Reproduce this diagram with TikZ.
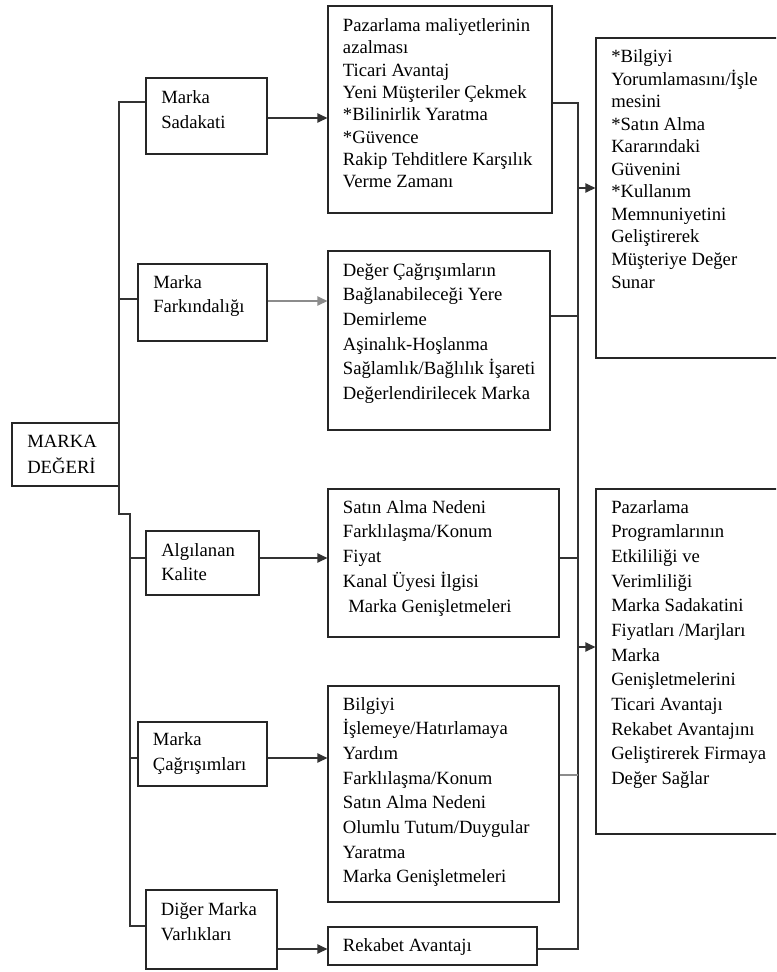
\documentclass[tikz,border=0pt]{standalone}
\usepackage{fontspec}
\setmainfont{Liberation Serif}
\usetikzlibrary{fit,arrows.meta}
\newcommand{\mlines}[1]{\begin{tabular}[t]{@{}l@{}}#1\end{tabular}}
\begin{document}
\begin{tikzpicture}[x=0.75pt,y=-0.75pt,
  box/.style={draw=black!85,line width=0.9pt,inner sep=0pt},
  txt/.style={anchor=base west,inner sep=0pt,text=black},
  conn/.style={draw=black!80,line width=0.9pt},
  lconn/.style={draw=black!45,line width=0.9pt},
  arr/.style={conn,-{Triangle[length=7.5pt,width=7pt]}},
  larr/.style={lconn,-{Triangle[length=7.5pt,width=7pt]}},
  sk/.style={font=\fontsize{14pt}{#1}\selectfont}]
\useasboundingbox (0,0) rectangle (776,972);
\clip (0,0) rectangle (776,972);
\fill[white] (0,0) rectangle (776,972);

% boxes
\node[box,fit={(12,423)(119,486)}] (md) {};
\node[box,fit={(146,78)(267,154)}] (sad) {};
\node[box,fit={(138,264)(267,341)}] (far) {};
\node[box,fit={(146,531)(259,595)}] (alg) {};
\node[box,fit={(138,722)(267,786)}] (cag) {};
\node[box,fit={(146,890)(277,969)}] (dig) {};
\node[box,fit={(328,6)(552,213)}] (b1) {};
\node[box,fit={(328,251)(550,430)}] (b2) {};
\node[box,fit={(328,489)(559,637)}] (b3) {};
\node[box,fit={(328,686)(559,902)}] (b4) {};
\node[box,fit={(328,927)(537,965)}] (rek) {};
\node[box,fit={(596,38)(790,358)}] (r1) {};
\node[box,fit={(596,489)(790,834)}] (r2) {};

% texts
\node[txt,sk=19.5pt] (mdt) at (27,447) {\mlines{MARKA\\DEĞERİ}};
\node[txt,sk=18.5pt] (sadt) at (161,103.5) {\mlines{Marka\\Sadakati}};
\node[txt,sk=18pt] (fart) at (153,288.3) {\mlines{Marka\\Farkındalığı}};
\node[txt,sk=18.2pt] (algt) at (161,556.7) {\mlines{Algılanan\\Kalite}};
\node[txt,sk=18.75pt] (cagt) at (152.7,745.7) {\mlines{Marka\\Çağrışımları}};
\node[txt,sk=18.75pt] (digt) at (160.7,915) {\mlines{Diğer Marka\\Varlıkları}};
\node[txt,sk=18pt] (rekt) at (342.7,951.7) {Rekabet Avantajı};
\node[txt,sk=16.7pt] (b1t) at (342.7,31.7) {\mlines{Pazarlama maliyetlerinin\\azalması\\Ticari Avantaj\\Yeni Müşteriler Çekmek\\{}*Bilinirlik Yaratma\\{}*Güvence\\Rakip Tehditlere Karşılık\\Verme Zamanı}};
\node[txt,sk=18.5pt] (b2t) at (342.7,276) {\mlines{Değer Çağrışımların\\Bağlanabileceği Yere\\Demirleme\\Aşinalık-Hoşlanma\\Sağlamlık/Bağlılık İşareti\\Değerlendirilecek Marka}};
\node[txt,sk=18.6pt] (b3t) at (342.7,513) {\mlines{Satın Alma Nedeni\\Farklılaşma/Konum\\Fiyat\\Kanal Üyesi İlgisi\\\hspace*{4pt}Marka Genişletmeleri}};
\node[txt,sk=18.5pt] (b4t) at (342.7,710) {\mlines{Bilgiyi\\İşlemeye/Hatırlamaya\\Yardım\\Farklılaşma/Konum\\Satın Alma Nedeni\\Olumlu Tutum/Duygular\\Yaratma\\Marka Genişletmeleri}};
\node[txt,sk=16.9pt] (r1t) at (611,62.7) {\mlines{*Bilgiyi\\Yorumlamasını/İşle\\mesini\\{}*Satın Alma\\Kararındaki\\Güvenini\\{}*Kullanım\\Memnuniyetini\\Geliştirerek\\Müşteriye Değer\\Sunar}};
\node[txt,sk=18.5pt] (r2t) at (611,513) {\mlines{Pazarlama\\Programlarının\\Etkililiği ve\\Verimliliği\\Marka Sadakatini\\Fiyatları /Marjları\\Marka\\Genişletmelerini\\Ticari Avantajı\\Rekabet Avantajını\\Geliştirerek Firmaya\\Değer Sağlar}};

% left trunk
\coordinate (j1) at (119,102);
\coordinate (j2) at (119,299);
\coordinate (j3) at (119,514);
\coordinate (j4) at (130,514);
\coordinate (j5) at (130,558);
\coordinate (j6) at (130,758);
\coordinate (j7) at (130,926);
\draw[conn] (sad.west |- j1) -- (j1) -- (j3) -- (j4) -- (j7) -- (dig.west |- j7);
\draw[conn] (j2) -- (far.west |- j2);
\draw[conn] (j5) -- (alg.west |- j5);
\draw[conn] (j6) -- (cag.west |- j6);

% arrows to middle boxes
\coordinate (a1) at (0,118);
\coordinate (a2) at (0,301);
\coordinate (a3) at (0,558);
\coordinate (a4) at (0,758);
\coordinate (a5) at (0,949);
\draw[arr] (sad.east |- a1) -- (b1.west |- a1);
\draw[larr] (far.east |- a2) -- (b2.west |- a2);
\draw[arr] (alg.east |- a3) -- (b3.west |- a3);
\draw[arr] (cag.east |- a4) -- (b4.west |- a4);
\draw[arr] (dig.east |- a5) -- (rek.west |- a5);

% right trunk
\coordinate (k1) at (578,103);
\coordinate (k2) at (578,316);
\coordinate (k3) at (578,558);
\coordinate (k4) at (578,775);
\coordinate (k5) at (578,949);
\coordinate (m1) at (578,188);
\coordinate (m2) at (578,647);
\draw[conn] (b1.east |- k1) -- (k1) -- (k5) -- (rek.east |- k5);
\draw[conn] (b2.east |- k2) -- (k2);
\draw[conn] (b3.east |- k3) -- (k3);
\draw[lconn] (b4.east |- k4) -- (k4);
\draw[arr] (m1) -- (r1.west |- m1);
\draw[arr] (m2) -- (r2.west |- m2);
\end{tikzpicture}
\end{document}
